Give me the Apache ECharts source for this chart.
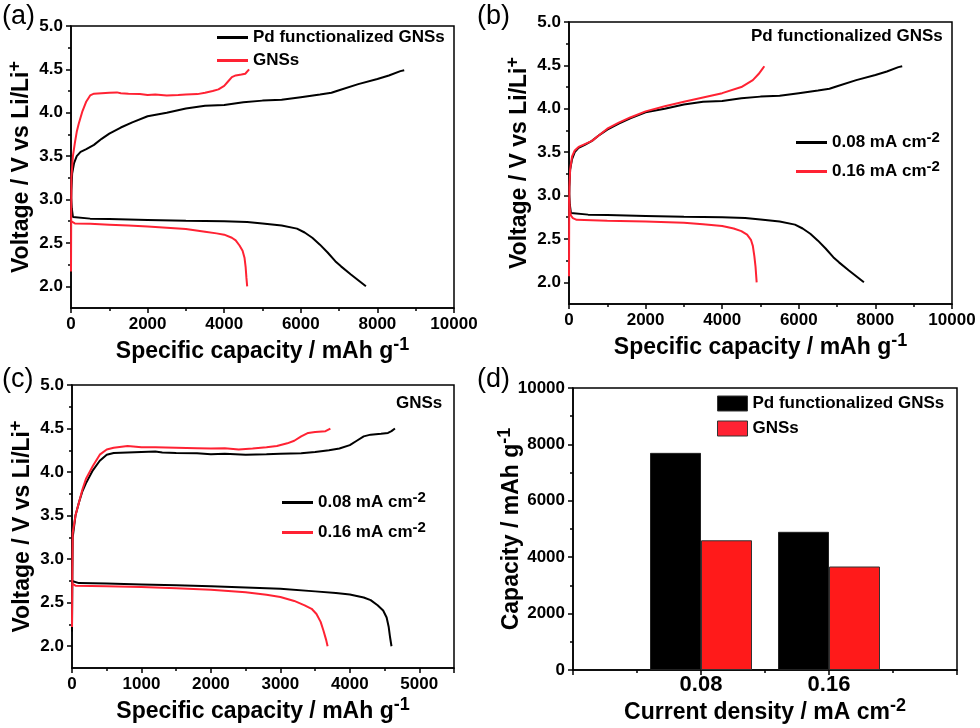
<!DOCTYPE html>
<html>
<head>
<meta charset="utf-8">
<title>Discharge / charge profiles</title>
<script src="https://cdn.jsdelivr.net/npm/echarts@6/dist/echarts.min.js"></script>
<style>
  html, body { margin: 0; padding: 0; background: #fff; }
  #chart { width: 980px; height: 728px; }
</style>
</head>
<body>
<div id="chart"></div>
<script>
var FONT = 'Liberation Sans';
var BLACK = '#000000';
var RED = '#ff2233';

// [capacity mAh g-1, voltage V]
var pd008Discharge = [[0, 3.02], [20, 2.9], [50, 2.8], [100, 2.785], [500, 2.78], [1000, 2.775], [2000, 2.765],
  [3000, 2.755], [4000, 2.75], [4600, 2.74], [5000, 2.725], [5500, 2.7], [5900, 2.665], [6100, 2.62],
  [6300, 2.56], [6500, 2.48], [6700, 2.39], [6900, 2.29], [7050, 2.23], [7300, 2.14], [7500, 2.07], [7700, 2.0]];
var pd008Charge = [[0, 2.8], [10, 3.1], [30, 3.3], [80, 3.42], [150, 3.5], [250, 3.55], [400, 3.58], [600, 3.63],
  [800, 3.7], [1000, 3.76], [1300, 3.83], [1600, 3.89], [2000, 3.96], [2500, 4.0], [3000, 4.05], [3500, 4.08],
  [4000, 4.09], [4500, 4.12], [5000, 4.14], [5500, 4.15], [6000, 4.18], [6500, 4.21], [6800, 4.23], [7000, 4.26],
  [7500, 4.33], [8000, 4.39], [8300, 4.43], [8600, 4.48], [8700, 4.49]];
var pd016Discharge = [[0, 2.98], [20, 2.85], [50, 2.77], [100, 2.74], [200, 2.72], [1000, 2.71], [2000, 2.7],
  [3000, 2.685], [3500, 2.67], [4000, 2.65], [4300, 2.62], [4500, 2.59], [4650, 2.55], [4750, 2.49], [4800, 2.42],
  [4840, 2.3], [4870, 2.18], [4900, 2.0]];
var pd016Charge = [[0, 2.07], [5, 2.8], [10, 3.1], [30, 3.3], [80, 3.45], [150, 3.52], [250, 3.56], [400, 3.59],
  [600, 3.63], [800, 3.7], [1000, 3.77], [1300, 3.84], [1600, 3.9], [2000, 3.97], [2500, 4.03], [3000, 4.08],
  [3500, 4.13], [4000, 4.18], [4500, 4.25], [4800, 4.33], [4950, 4.4], [5050, 4.46], [5100, 4.49]];
var gns008Discharge = [[0, 2.75], [20, 2.73], [100, 2.725], [500, 2.72], [1000, 2.71], [1500, 2.7], [2000, 2.69],
  [2500, 2.675], [3000, 2.66], [3500, 2.63], [3800, 2.61], [4000, 2.595], [4200, 2.56], [4300, 2.53],
  [4400, 2.47], [4480, 2.41], [4530, 2.33], [4560, 2.22], [4580, 2.1], [4600, 2.0]];
var gns008Charge = [[0, 2.17], [5, 2.8], [10, 3.25], [50, 3.5], [100, 3.65], [150, 3.78], [200, 3.87], [300, 4.02],
  [400, 4.13], [500, 4.2], [600, 4.22], [800, 4.225], [1000, 4.23], [1200, 4.235], [1300, 4.225], [1500, 4.22],
  [1800, 4.215], [2000, 4.205], [2200, 4.21], [2500, 4.2], [2800, 4.205], [3000, 4.21], [3300, 4.215],
  [3500, 4.23], [3700, 4.25], [3850, 4.27], [4000, 4.31], [4100, 4.36], [4200, 4.41], [4300, 4.43],
  [4450, 4.44], [4550, 4.45], [4600, 4.47], [4650, 4.5]];
var gns016Discharge = [[0, 2.72], [50, 2.695], [500, 2.69], [1000, 2.68], [1500, 2.665], [2000, 2.65], [2500, 2.62],
  [2800, 2.59], [3000, 2.565], [3200, 2.52], [3350, 2.47], [3450, 2.43], [3520, 2.37], [3580, 2.28],
  [3620, 2.18], [3660, 2.07], [3680, 2.0]];
var gns016Charge = [[0, 2.22], [5, 2.9], [10, 3.3], [50, 3.5], [100, 3.65], [150, 3.8], [200, 3.92], [300, 4.07],
  [400, 4.2], [500, 4.26], [600, 4.28], [800, 4.3], [1000, 4.285], [1200, 4.285], [1500, 4.28], [1800, 4.275],
  [2000, 4.27], [2200, 4.275], [2400, 4.26], [2600, 4.27], [2800, 4.285], [2950, 4.3], [3100, 4.33],
  [3200, 4.36], [3300, 4.41], [3400, 4.45], [3500, 4.46], [3650, 4.47], [3720, 4.5]];

// panel (d)
var densityValues = [0.08, 0.16];
var densityLabels = ['0.08', '0.16'];
var pdCapacity = [7700, 4900];
var gnsCapacity = [4600, 3670];

var voltMajor = [2.0, 2.5, 3.0, 3.5, 4.0, 4.5, 5.0];
var voltMinor = [2.25, 2.75, 3.25, 3.75, 4.25, 4.75];

var supStyle = {fontSize: 18, fontWeight: 'bold', fontFamily: FONT, color: BLACK, padding: [0, 0, 14, 0]};
var nameStyle = {fontSize: 23, fontWeight: 'bold', fontFamily: FONT, color: BLACK, rich: {sup: supStyle}};
var lineBlack = {color: BLACK, width: 1.5};

function labelStyle(size) {
  return {color: BLACK, fontSize: size, fontWeight: 'bold', fontFamily: FONT};
}

function capAxis(grid, max, step) {
  return {
    type: 'value', gridIndex: grid, min: 0, max: max, interval: step,
    name: 'Specific capacity / mAh g{sup|-1}', nameLocation: 'middle', nameGap: 28, nameTextStyle: nameStyle,
    axisLine: {show: true, lineStyle: lineBlack},
    axisTick: {show: true, length: 5, lineStyle: lineBlack},
    minorTick: {show: true, splitNumber: 2, length: 3, lineStyle: lineBlack},
    axisLabel: Object.assign(labelStyle(17), {margin: 8, formatter: function (v) {
      return v % step === 0 ? String(v) : '';
    }}),
    splitLine: {show: false}
  };
}

function voltAxis(grid) {
  return {
    type: 'value', gridIndex: grid, min: 1.75, max: 5, position: 'left',
    name: 'Voltage / V vs Li/Li{sup|+}', nameLocation: 'middle', nameRotate: 90, nameGap: 33, nameTextStyle: nameStyle,
    axisLine: {show: true, lineStyle: lineBlack},
    axisTick: {show: true, length: 5, customValues: voltMajor, lineStyle: lineBlack},
    axisLabel: Object.assign(labelStyle(17), {margin: 8, customValues: voltMajor, formatter: function (v) {
      return v.toFixed(1);
    }}),
    splitLine: {show: false}
  };
}

function voltMinorAxis(grid) {
  return {
    type: 'value', gridIndex: grid, min: 1.75, max: 5, position: 'left',
    axisLine: {show: false},
    axisTick: {show: true, length: 3, customValues: voltMinor, lineStyle: lineBlack},
    axisLabel: {show: false},
    splitLine: {show: false}
  };
}

function curve(name, color, data, idx) {
  return {
    type: 'line', name: name, data: data, xAxisIndex: idx, yAxisIndex: idx,
    symbol: 'none', lineStyle: {color: color, width: 2}, itemStyle: {color: color}, z: 3
  };
}

function legendBox(left, top, names, gap, extra) {
  return Object.assign({
    orient: 'vertical', left: left, top: top, padding: 0, itemWidth: 31, itemHeight: 3, itemGap: gap,
    selectedMode: false, icon: 'rect',
    data: names,
    textStyle: Object.assign(labelStyle(17), {rich: {sup: Object.assign({}, supStyle, {fontSize: 15, padding: [0, 0, 10, 0]})}})
  }, extra || {});
}

function supFormatter(name) {
  return name.replace(/-2$/, '{sup|-2}');
}

var chart = echarts.init(document.getElementById('chart'), null, {renderer: 'canvas'});

var gridBox = {show: true, borderColor: BLACK, borderWidth: 1.5, backgroundColor: 'transparent', containLabel: false};
var letterStyle = {fontSize: 27, fontWeight: 'normal', fontFamily: FONT, color: BLACK};

var option = {
  backgroundColor: '#ffffff',
  animation: false,
  title: [
    {text: '(a)', left: 2, top: 3, padding: 0, textStyle: letterStyle},
    {text: '(b)', left: 477, top: 3, padding: 0, textStyle: letterStyle},
    {text: '(c)', left: 2, top: 366, padding: 0, textStyle: letterStyle},
    {text: '(d)', left: 477, top: 366, padding: 0, textStyle: letterStyle},
    {text: 'Pd functionalized GNSs', left: 751, top: 28, padding: 0, textStyle: labelStyle(17)},
    {text: 'GNSs', left: 396, top: 395, padding: 0, textStyle: labelStyle(17)}
  ],
  legend: [
    legendBox(217, 29, ['Pd functionalized GNSs', 'GNSs'], 6),
    legendBox(796, 130, ['0.08 mA cm-2', '0.16 mA cm-2'], 8, {formatter: supFormatter}),
    legendBox(282, 490, ['0.08 mA cm-2', '0.16 mA cm-2'], 9, {formatter: supFormatter}),
    legendBox(717, 395, ['Pd functionalized GNSs', 'GNSs'], 8,
      {itemWidth: 30, itemHeight: 15, itemStyle: {borderColor: '#333', borderWidth: 1}})
  ],
  grid: [
    Object.assign({left: 71, top: 26, width: 383, height: 282}, gridBox),
    Object.assign({left: 569, top: 22, width: 383, height: 282}, gridBox),
    Object.assign({left: 72, top: 385, width: 382, height: 283}, gridBox),
    Object.assign({left: 573, top: 388, width: 384, height: 282}, gridBox)
  ],
  xAxis: [
    capAxis(0, 10000, 2000),
    capAxis(1, 10000, 2000),
    capAxis(2, 5500, 1000),
    {
      type: 'value', gridIndex: 3, min: 0, max: 0.24, interval: 0.08,
      name: 'Current density / mA cm{sup|-2}', nameLocation: 'middle', nameGap: 23, nameTextStyle: nameStyle,
      axisLine: {show: true, lineStyle: lineBlack},
      axisTick: {show: true, length: 5, lineStyle: lineBlack},
      minorTick: {show: true, splitNumber: 2, length: 3, lineStyle: lineBlack},
      axisLabel: Object.assign(labelStyle(22), {margin: 4, formatter: function (v) {
        var i = densityValues.findIndex(function (d) { return Math.abs(d - v) < 1e-6; });
        return i < 0 ? '' : densityLabels[i];
      }}),
      splitLine: {show: false}
    }
  ],
  yAxis: [
    voltAxis(0),
    voltAxis(1),
    voltAxis(2),
    {
      type: 'value', gridIndex: 3, min: 0, max: 10000, interval: 2000, position: 'left',
      axisLine: {show: true, lineStyle: lineBlack},
      axisTick: {show: true, length: 5, lineStyle: lineBlack},
      minorTick: {show: true, splitNumber: 2, length: 3, lineStyle: lineBlack},
      axisLabel: Object.assign(labelStyle(17), {margin: 8, formatter: function (v) { return String(v); }}),
      splitLine: {show: false}
    },
    voltMinorAxis(0),
    voltMinorAxis(1),
    voltMinorAxis(2),
    {
      // carries the (d) axis title only
      type: 'value', gridIndex: 3, min: 0, max: 10000, position: 'left',
      name: 'Capacity / mAh g{sup|-1}', nameLocation: 'middle', nameRotate: 90, nameGap: 45, nameTextStyle: nameStyle,
      axisLine: {show: false}, axisTick: {show: false}, axisLabel: {show: false}, splitLine: {show: false}
    }
  ],
  series: [
    curve('Pd functionalized GNSs', BLACK, pd008Discharge, 0),
    curve('Pd functionalized GNSs', BLACK, pd008Charge, 0),
    curve('GNSs', RED, gns008Discharge, 0),
    curve('GNSs', RED, gns008Charge, 0),

    curve('0.08 mA cm-2', BLACK, pd008Discharge, 1),
    curve('0.08 mA cm-2', BLACK, pd008Charge, 1),
    curve('0.16 mA cm-2', RED, pd016Discharge, 1),
    curve('0.16 mA cm-2', RED, pd016Charge, 1),

    curve('0.08 mA cm-2', BLACK, gns008Discharge, 2),
    curve('0.08 mA cm-2', BLACK, gns008Charge, 2),
    curve('0.16 mA cm-2', RED, gns016Discharge, 2),
    curve('0.16 mA cm-2', RED, gns016Charge, 2),

    {
      type: 'bar', name: 'Pd functionalized GNSs', xAxisIndex: 3, yAxisIndex: 3,
      data: densityValues.map(function (d, i) { return [d, pdCapacity[i]]; }),
      barWidth: 51, barGap: '0%', itemStyle: {color: BLACK, borderColor: '#222', borderWidth: 1}
    },
    {
      type: 'bar', name: 'GNSs', xAxisIndex: 3, yAxisIndex: 3,
      data: densityValues.map(function (d, i) { return [d, gnsCapacity[i]]; }),
      barWidth: 51, barGap: '0%', itemStyle: {color: '#ff1a1a', borderColor: '#333', borderWidth: 1}
    }
  ]
};

chart.setOption(option);
</script>
</body>
</html>
